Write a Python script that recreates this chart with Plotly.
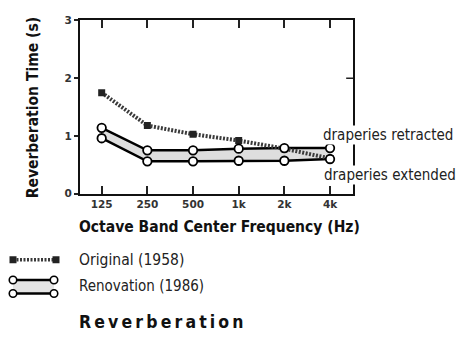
import plotly.graph_objects as go

# Octave bands and reverberation times (seconds)
bands = ["125", "250", "500", "1k", "2k", "4k"]
original_1958 = [1.75, 1.18, 1.03, 0.92, 0.78, 0.61]
renovation_retracted = [1.14, 0.75, 0.75, 0.78, 0.79, 0.79]
renovation_extended = [0.96, 0.56, 0.56, 0.57, 0.57, 0.60]
y_ticks = [0, 1, 2, 3]

W, H = 456, 341
FONT = "DejaVu Sans Condensed, DejaVu Sans, sans-serif"
TICKFONT = dict(family="DejaVu Sans, sans-serif", size=10.5, color="#333", weight="bold")

def px(x):
    return x / W

def py(y):
    return 1 - y / H

idx = list(range(len(bands)))
fig = go.Figure()

# shaded band between the two renovation curves
fig.add_trace(go.Scatter(x=idx, y=renovation_extended, mode="lines",
                         line=dict(color="black", width=2.5), hoverinfo="skip"))
fig.add_trace(go.Scatter(x=idx, y=renovation_retracted, mode="lines",
                         line=dict(color="black", width=2.5), fill="tonexty",
                         fillcolor="#dedede", hoverinfo="skip"))
# original hall
fig.add_trace(go.Scatter(x=idx, y=original_1958, mode="lines+markers",
                         line=dict(color="#3a3a3a", width=4, dash="2px,1.5px"),
                         marker=dict(symbol="square", size=7, color="#222")))
# open circles on the renovation curves
for series in (renovation_extended, renovation_retracted):
    fig.add_trace(go.Scatter(x=idx, y=series, mode="markers",
                             marker=dict(symbol="circle", size=8.5, color="white",
                                         line=dict(color="black", width=1.8))))

# legend samples drawn on a small auxiliary axis pair (pixel units)
fig.add_trace(go.Scatter(x=[13, 56], y=[263, 263], mode="lines+markers",
                         line=dict(color="#3a3a3a", width=3.5, dash="2px,1.5px"),
                         marker=dict(symbol="square", size=7, color="#222"),
                         xaxis="x2", yaxis="y2"))
fig.add_trace(go.Scatter(x=[13, 54], y=[298, 298], mode="lines",
                         line=dict(color="black", width=2.5),
                         xaxis="x2", yaxis="y2"))
fig.add_trace(go.Scatter(x=[13, 54], y=[284, 284], mode="lines",
                         line=dict(color="black", width=2.5), fill="tonexty",
                         fillcolor="#e4e4e4", xaxis="x2", yaxis="y2"))
fig.add_trace(go.Scatter(x=[13, 54, 13, 54], y=[284, 284, 298, 298], mode="markers",
                         marker=dict(symbol="circle", size=7.5, color="white",
                                     line=dict(color="black", width=1.6)),
                         xaxis="x2", yaxis="y2"))

ann = []
ann.append(dict(x=px(322), y=py(134), xref="paper", yref="paper", xanchor="left",
                yanchor="middle", text="draperies retracted", showarrow=False,
                bgcolor="white", borderpad=0,
                font=dict(family=FONT, size=15, color="#222")))
ann.append(dict(x=px(323), y=py(175), xref="paper", yref="paper", xanchor="left",
                yanchor="middle", text="draperies extended", showarrow=False,
                bgcolor="white", borderpad=0,
                font=dict(family=FONT, size=15, color="#222")))
ann.append(dict(x=px(77), y=py(229), xref="paper", yref="paper", xanchor="left",
                yanchor="middle", text="<b>Octave Band Center Frequency (Hz)</b>",
                showarrow=False, font=dict(family=FONT, size=15.5, color="#111")))
ann.append(dict(x=px(77), y=py(263), xref="paper", yref="paper", xanchor="left",
                yanchor="middle", text="Original (1958)", showarrow=False,
                font=dict(family=FONT, size=15.5, color="#222")))
ann.append(dict(x=px(77), y=py(290), xref="paper", yref="paper", xanchor="left",
                yanchor="middle", text="Renovation (1986)", showarrow=False,
                font=dict(family=FONT, size=15, color="#222")))
ann.append(dict(x=px(77), y=py(328), xref="paper", yref="paper", xanchor="left",
                yanchor="middle",
                text="<b>R\u2009e\u2009v\u2009e\u2009r\u2009b\u2009e\u2009r\u2009a\u2009t\u2009i\u2009o\u2009n</b>",
                showarrow=False, font=dict(family=FONT, size=17.5, color="#111")))
ann.append(dict(x=px(33), y=py(106), xref="paper", yref="paper", xanchor="center",
                yanchor="middle", text="<b>Reverberation Time (s)</b>", textangle=-90,
                showarrow=False, font=dict(family=FONT, size=15.5, color="#111")))

# inward tick on the right-hand frame at 2 s
shapes = [dict(type="line", xref="x domain", yref="y", x0=1, x1=0.975,
               y0=y_ticks[2], y1=y_ticks[2], line=dict(color="#222", width=1.5))]

fig.update_layout(
    width=W, height=H, margin=dict(l=0, r=0, t=0, b=0),
    paper_bgcolor="white", plot_bgcolor="white", showlegend=False,
    annotations=ann, shapes=shapes,
    xaxis=dict(domain=[80 / W, 353 / W], range=[-0.475, 5.503],
               tickvals=idx, ticktext=bands, tickfont=TICKFONT,
               ticks="inside", ticklen=8, tickwidth=1.5, tickcolor="#222",
               showline=True, linecolor="#111", linewidth=2, mirror="ticks",
               showgrid=False, zeroline=False, anchor="y"),
    yaxis=dict(domain=[(H - 194.5) / H, (H - 15) / H], range=[0, 3],
               tickvals=y_ticks, tickfont=TICKFONT,
               ticks="outside", ticklen=4, tickwidth=1.5, tickcolor="#222",
               showline=True, linecolor="#111", linewidth=2, mirror=True,
               showgrid=False, zeroline=False, anchor="x"),
    xaxis2=dict(domain=[0, 70 / W], range=[0, 70], visible=False, anchor="y2"),
    yaxis2=dict(domain=[(H - 310) / H, (H - 250) / H], range=[310, 250],
                visible=False, anchor="x2"),
)

fig.write_html("out.html")
